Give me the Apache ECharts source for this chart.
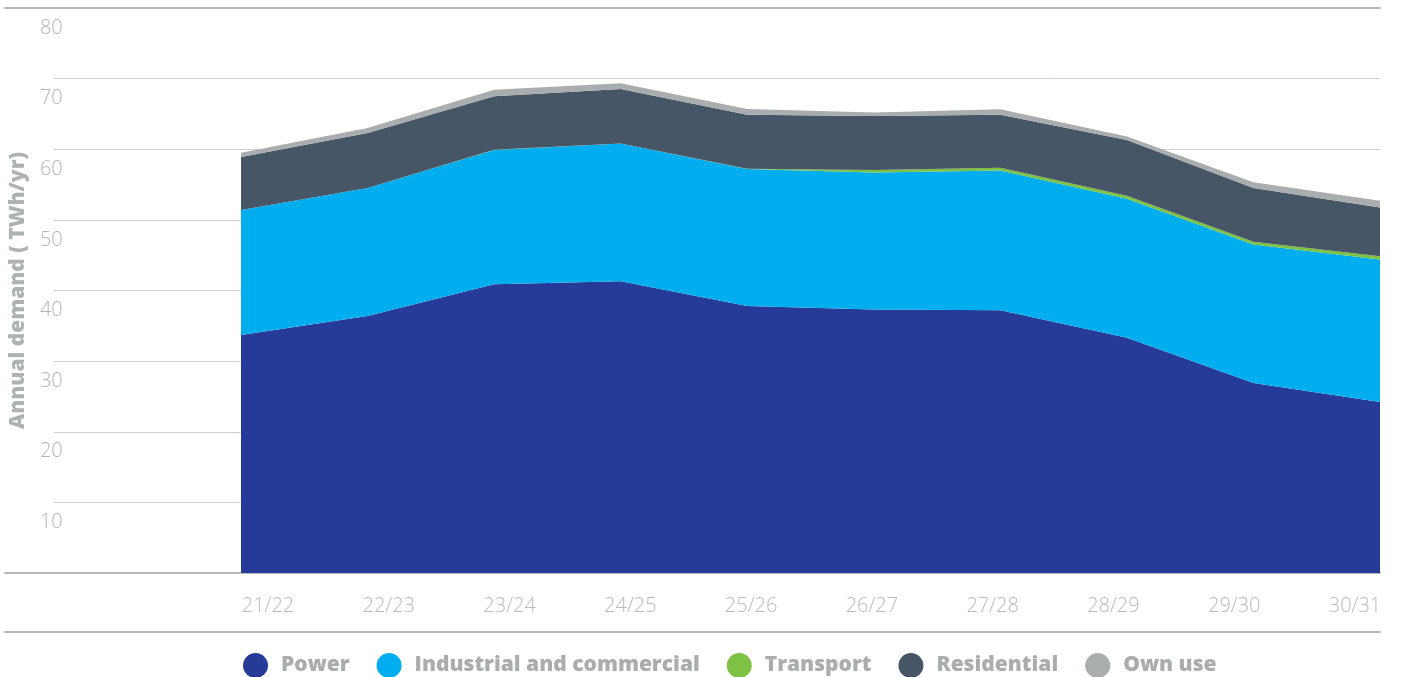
<!DOCTYPE html>
<html>
<head>
<meta charset="utf-8">
<script src="https://cdn.jsdelivr.net/npm/echarts@6/dist/echarts.min.js"></script>
<style>html,body{margin:0;padding:0;background:#fff;}#c{width:1403px;height:677px;}</style>
</head>
<body>
<div id="c"></div>
<script>
const categories = ['21/22','22/23','23/24','24/25','25/26','26/27','27/28','28/29','29/30','30/31'];
const power       = [33.7, 36.4, 40.9, 41.3, 37.8, 37.3, 37.2, 33.3, 26.9, 24.2];
const industrial  = [17.7, 18.1, 19.0, 19.5, 19.4, 19.4, 19.8, 19.7, 19.6, 20.2];
const transport   = [0.01, 0.01, 0.02, 0.03, 0.05, 0.35, 0.38, 0.40, 0.42, 0.45];
const residential = [7.5, 7.8, 7.6, 7.7, 7.65, 7.65, 7.5, 7.9, 7.6, 6.9];
const ownUse      = [0.6, 0.7, 0.9, 0.8, 0.8, 0.5, 0.8, 0.5, 0.8, 0.95];
const yTicks = [0, 10, 20, 30, 40, 50, 60, 70, 80];

const seriesNames = ['Power','Industrial and commercial','Transport','Residential','Own use'];
const seriesData = [power, industrial, transport, residential, ownUse];
const colors = ['#253b97','#00aeef','#7dc242','#475666','#a9adad'];

const chart = echarts.init(document.getElementById('c'));
const lineGray = '#b5b9b9';
const option = {
  animation: false,
  color: colors,
  grid: [
    {left: 5, right: 23, top: 8, bottom: 104},    // frame
    {left: 40, right: 23, top: 8, bottom: 104},   // y gridlines
    {left: 241, right: 23, top: 8, bottom: 104},  // series
    {left: 268, right: 48, top: 8, bottom: 45},   // x labels
    {left: 5, right: 23, top: 8, bottom: 45}      // lower rule
  ],
  xAxis: [
    {gridIndex: 0, type: 'value', min: 0, max: 1, position: 'bottom',
     axisLine: {show: true, lineStyle: {color: lineGray, width: 2}}, axisTick: {show: false}, axisLabel: {show: false}, splitLine: {show: false}},
    {gridIndex: 0, type: 'value', min: 0, max: 1, position: 'top',
     axisLine: {show: true, lineStyle: {color: lineGray, width: 2}}, axisTick: {show: false}, axisLabel: {show: false}, splitLine: {show: false}},
    {gridIndex: 1, type: 'value', min: 0, max: 1, show: false},
    {gridIndex: 2, type: 'category', data: categories, boundaryGap: false, show: false},
    {gridIndex: 3, type: 'category', data: categories, boundaryGap: false,
     axisLine: {show: false}, axisTick: {show: false}, splitLine: {show: false},
     axisLabel: {inside: true, margin: 16, color: '#b8bcbc', fontFamily: 'Open Sans', fontWeight: 300, fontSize: 20}},
    {gridIndex: 4, type: 'value', min: 0, max: 1, position: 'bottom',
     axisLine: {show: true, lineStyle: {color: lineGray, width: 2}}, axisTick: {show: false}, axisLabel: {show: false}, splitLine: {show: false}}
  ],
  yAxis: [
    {gridIndex: 0, type: 'value', min: 0, max: 80, show: false},
    {gridIndex: 1, type: 'value', min: 0, max: 80, interval: 10,
     name: 'Annual demand ( TWh/yr)', nameLocation: 'middle', nameRotate: 90, nameGap: 24,
     nameTextStyle: {color: '#aeb2b2', fontFamily: 'Open Sans', fontWeight: 800, fontSize: 21},
     axisLine: {show: false}, axisTick: {show: false},
     splitLine: {show: true, lineStyle: {color: '#cfcfcf', width: 1}},
     axisLabel: {inside: true, margin: -14, align: 'left', verticalAlign: 'top', padding: [10, 0, 0, 0],
       color: '#b3b6b6', fontFamily: 'Open Sans', fontWeight: 300, fontSize: 20,
       formatter: v => (v === 0 ? '' : (yTicks.includes(v) ? String(v) : ''))}},
    {gridIndex: 2, type: 'value', min: 0, max: 80, show: false},
    {gridIndex: 3, type: 'value', min: 0, max: 1, show: false},
    {gridIndex: 4, type: 'value', min: 0, max: 1, show: false}
  ],
  legend: {
    top: 648, left: 238, icon: 'circle', itemWidth: 25, itemHeight: 25, itemGap: 27,
    textStyle: {color: '#a9adad', fontFamily: 'Open Sans', fontWeight: 800, fontSize: 21, padding: [0, 0, 0, 8]},
    data: seriesNames
  },
  series: seriesNames.map((n, i) => ({
    name: n, type: 'line', xAxisIndex: 3, yAxisIndex: 2, stack: 'total',
    data: seriesData[i], symbol: 'none', smooth: false,
    lineStyle: {width: 0}, areaStyle: {opacity: 1, color: colors[i]}, itemStyle: {color: colors[i]}
  }))
};
chart.setOption(option);
</script>
</body>
</html>
